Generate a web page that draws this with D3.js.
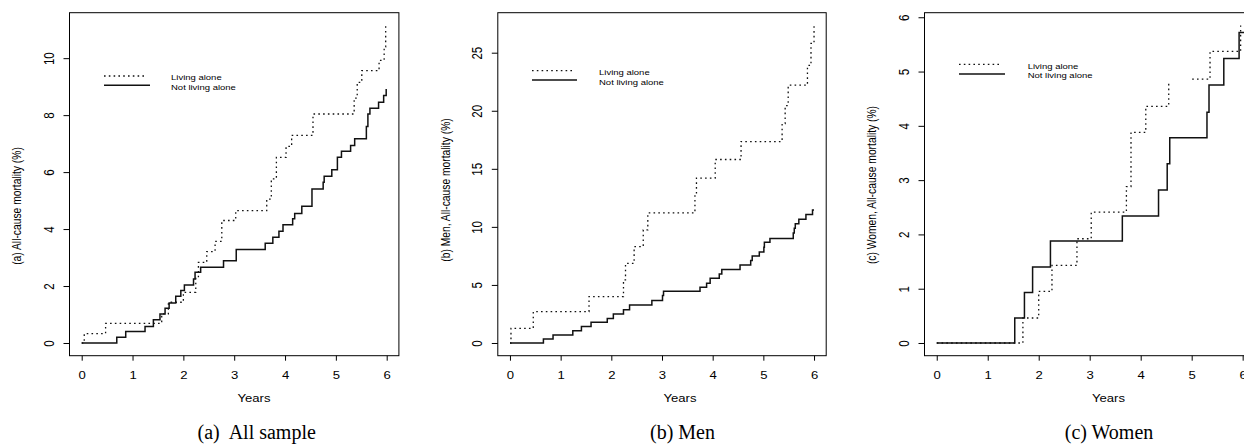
<!DOCTYPE html>
<html><head><meta charset="utf-8">
<script src="https://cdn.jsdelivr.net/npm/d3@7/dist/d3.min.js"></script>
<style>body{margin:0;background:#fff}svg{display:block}</style>
</head><body>
<svg id="chart" width="1244" height="444"></svg>
<script>
// ---------- data ----------
const years = [0, 1, 2, 3, 4, 5, 6];
const seriesNames = ["Living alone", "Not living alone"];
const xTitle = "Years";

const aYTitle = "(a) All-cause mortality (%)";
const aCaption = "(a)\u00a0 All sample";
const aYTicks = [0, 2, 4, 6, 8, 10];
const aAloneT = [0, 0.05, 0.47, 1.574, 1.705, 2.0, 2.244, 2.296, 2.46, 2.624, 2.756, 3.03, 3.64, 3.73, 3.83, 4.02, 4.13, 4.55, 5.36, 5.42, 5.51, 5.85, 5.95, 5.98];
const aAloneV = [0, 0.33, 0.69, 1.02, 1.43, 1.78, 2.3, 2.83, 3.21, 3.57, 4.3, 4.65, 5.05, 5.76, 6.52, 6.9, 7.29, 8.04, 8.6, 9.15, 9.56, 9.92, 10.4, 11.15];
const aNotT = [0, 0.69, 0.866, 1.246, 1.41, 1.54, 1.64, 1.72, 1.85, 1.95, 2.02, 2.2, 2.23, 2.34, 2.79, 3.04, 3.61, 3.76, 3.88, 3.96, 4.15, 4.19, 4.33, 4.53, 4.75, 4.77, 4.92, 5.03, 5.11, 5.29, 5.37, 5.6, 5.63, 5.67, 5.84, 5.94, 5.99];
const aNotV = [0, 0.2, 0.4, 0.58, 0.82, 1.02, 1.22, 1.4, 1.64, 1.84, 2.04, 2.25, 2.48, 2.66, 2.89, 3.28, 3.5, 3.71, 3.92, 4.15, 4.36, 4.55, 4.8, 5.41, 5.64, 5.85, 6.08, 6.52, 6.73, 6.93, 7.17, 7.6, 8.04, 8.24, 8.45, 8.69, 8.92];

const bYTitle = "(b) Men, All-cause mortality (%)";
const bCaption = "(b) Men";
const bYTicks = [0, 5, 10, 15, 20, 25];
const bAloneT = [0, 0.02, 0.46, 1.56, 2.24, 2.28, 2.45, 2.63, 2.72, 3.65, 3.68, 4.05, 4.56, 5.37, 5.43, 5.49, 5.87, 5.94, 6.0];
const bAloneV = [0, 1.26, 2.7, 4.0, 5.43, 6.86, 8.3, 9.74, 11.2, 12.76, 14.2, 15.8, 17.35, 18.9, 20.45, 22.2, 23.9, 25.8, 27.35];
const bNotT = [0, 0.66, 0.85, 1.24, 1.41, 1.6, 1.92, 2.04, 2.24, 2.36, 2.8, 3.01, 3.03, 3.75, 3.88, 3.95, 4.13, 4.18, 4.54, 4.75, 4.78, 4.92, 5.01, 5.02, 5.13, 5.59, 5.61, 5.63, 5.7, 5.84, 5.97, 6.0];
const bNotV = [0, 0.35, 0.69, 1.06, 1.43, 1.78, 2.12, 2.5, 2.87, 3.28, 3.65, 4.08, 4.45, 4.8, 5.14, 5.57, 5.95, 6.32, 6.72, 7.1, 7.5, 7.84, 8.25, 8.68, 9.0, 9.48, 9.88, 10.26, 10.66, 11.06, 11.46, 11.46];

const cYTitle = "(c) Women, All-cause mortality (%)";
const cCaption = "(c) Women";
const cYTicks = [0, 1, 2, 3, 4, 5, 6];
const cAloneT = [0, 1.69, 2.0, 2.26, 2.75, 3.03, 3.72, 3.81, 4.1, 4.55, 4.8, 5.01, 5.36, 5.96];
const cAloneV = [0, 0.46, 0.95, 1.43, 1.92, 2.41, 2.88, 3.88, 4.36, 4.78, null, 4.86, 5.37, 5.85];
const cNotT = [0, 1.53, 1.72, 1.88, 2.23, 3.64, 4.35, 4.52, 4.57, 5.30, 5.34, 5.63, 5.93, 6.05];
const cNotV = [0, 0.46, 0.93, 1.4, 1.88, 2.34, 2.82, 3.3, 3.78, 4.25, 4.75, 5.24, 5.72, 5.72];

// ---------- layout ----------
const SX = 1.25;             // horizontal stretch of the plot text
const SANS = "'Liberation Sans', Arial, Helvetica, sans-serif";
const SERIF = "'Liberation Serif', 'Times New Roman', serif";
const plotTop = 12.7, plotBottom = 355.7;

const panels = [
  {T1: aAloneT, V1: aAloneV, T2: aNotT, V2: aNotV, yTicks: aYTicks, ytitle: aYTitle, caption: aCaption,
   left: 69.5, right: 398.9, titleX: 16.7, titleY: 206, yearsX: 254, capX: 256.7,
   leg: {x: 104, w1: 43, w2: 46, y1: 76, y2: 85.3, tx: 171, b1: 80, b2: 89.7}},
  {T1: bAloneT, V1: bAloneV, T2: bNotT, V2: bNotV, yTicks: bYTicks, ytitle: bYTitle, caption: bCaption,
   left: 497.8, right: 826.2, titleX: 445, titleY: 190, yearsX: 680, capX: 682.5,
   leg: {x: 532, w1: 43, w2: 45, y1: 70.7, y2: 80, tx: 599, b1: 75.4, b2: 85}},
  {T1: cAloneT, V1: cAloneV, T2: cNotT, V2: cNotV, yTicks: cYTicks, ytitle: cYTitle, caption: cCaption,
   left: 924.5, right: 1254.9, titleX: 871.7, titleY: 185, yearsX: 1108.5, capX: 1109,
   leg: {x: 959, w1: 42, w2: 46, y1: 64.3, y2: 74, tx: 1027.7, b1: 69, b2: 78.4}}
];

const svg = d3.select('#chart');

panels.forEach(p => {
  const xMin = d3.min(years), xMax = d3.max(years);
  const xPad = (xMax - xMin) * 0.04;
  const x = d3.scaleLinear().domain([xMin - xPad, xMax + xPad]).range([p.left, p.right]);
  const yMax = d3.max(p.V1.concat(p.V2).filter(v => v != null));
  const yPad = yMax * 0.04;
  const y = d3.scaleLinear().domain([-yPad, yMax + yPad]).range([plotBottom, plotTop]);

  const g = svg.append('g');

  // box
  g.append('rect').attr('x', p.left).attr('y', plotTop)
    .attr('width', p.right - p.left).attr('height', plotBottom - plotTop)
    .attr('fill', 'none').attr('stroke', '#000').attr('stroke-width', 1);

  // x axis
  const gx = g.append('g').attr('transform', `translate(0,${plotBottom})`)
    .call(d3.axisBottom(x).tickValues(years).tickSize(5).tickFormat(d3.format('d')));
  gx.select('.domain').remove();
  gx.attr('font-family', SANS).attr('font-size', 10.5);
  gx.selectAll('line').attr('stroke', '#000');
  gx.selectAll('text').attr('y', 0).attr('dy', null).attr('fill', '#000')
    .attr('transform', `translate(0,23.3) scale(${SX},1)`);

  // y axis
  const gy = g.append('g').attr('transform', `translate(${p.left},0)`)
    .call(d3.axisLeft(y).tickValues(p.yTicks).tickSize(6).tickFormat(d3.format('d')));
  gy.select('.domain').remove();
  gy.attr('font-family', SANS).attr('font-size', 11.5);
  gy.selectAll('line').attr('stroke', '#000');
  gy.selectAll('text').attr('x', 0).attr('y', 0).attr('dy', '0.36em').attr('fill', '#000')
    .attr('text-anchor', 'middle')
    .attr('transform', `translate(-21,0) scale(${SX},1) rotate(-90)`);

  // lines
  const line = d3.line().defined(d => d[1] != null)
    .x(d => x(d[0])).y(d => y(d[1])).curve(d3.curveStepAfter);
  const d1 = p.T1.map((t, i) => [t, p.V1[i]]);
  const d2 = p.T2.map((t, i) => [t, p.V2[i]]);
  g.append('path').attr('d', line(d2)).attr('fill', 'none')
    .attr('stroke', '#111').attr('stroke-width', 1.5);
  g.append('path').attr('d', line(d1)).attr('fill', 'none')
    .attr('stroke', '#111').attr('stroke-width', 1.3).attr('stroke-dasharray', '1.6,3.2');

  // legend
  const L = p.leg;
  g.append('line').attr('x1', L.x).attr('x2', L.x + L.w1).attr('y1', L.y1).attr('y2', L.y1)
    .attr('stroke', '#111').attr('stroke-width', 1.3).attr('stroke-dasharray', '1.6,3.2');
  g.append('line').attr('x1', L.x).attr('x2', L.x + L.w2).attr('y1', L.y2).attr('y2', L.y2)
    .attr('stroke', '#111').attr('stroke-width', 1.5);
  [[seriesNames[0], L.b1], [seriesNames[1], L.b2]].forEach(([txt, by]) => {
    g.append('text').attr('transform', `translate(${L.tx},${by}) scale(${SX},1)`)
      .attr('font-family', SANS).attr('font-size', 7.6).attr('fill', '#000').text(txt);
  });

  // axis titles
  g.append('text').attr('transform', `translate(${p.yearsX},401.5) scale(${SX},1)`)
    .attr('text-anchor', 'middle').attr('font-family', SANS).attr('font-size', 10.5)
    .attr('fill', '#000').text(xTitle);
  g.append('text').attr('transform', `translate(${p.titleX},${p.titleY}) scale(${SX},1) rotate(-90)`)
    .attr('text-anchor', 'middle').attr('dy', '0.36em').attr('font-family', SANS).attr('font-size', 10.3)
    .attr('fill', '#000').text(p.ytitle);

  // caption
  g.append('text').attr('x', p.capX).attr('y', 439).attr('text-anchor', 'middle')
    .attr('font-family', SERIF).attr('font-size', 20).attr('fill', '#000').text(p.caption);
});
</script>
</body></html>
